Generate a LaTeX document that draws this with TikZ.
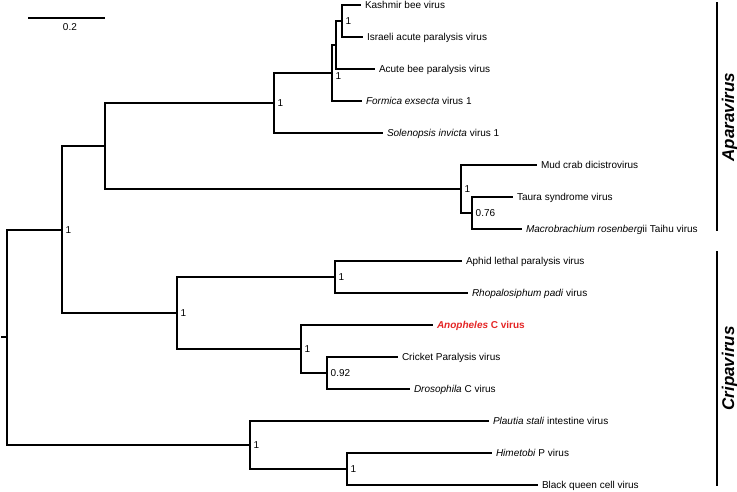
\documentclass[tikz,border=0pt]{standalone}
\usepackage{fontspec}
\setmainfont{Liberation Sans}
\definecolor{anored}{RGB}{228,37,37}
\begin{document}
\begin{tikzpicture}[x=1pt,y=-1pt,
  br/.style={line width=1.5pt, line join=miter},
  tip/.style={anchor=west, inner sep=0pt, xshift=3.8pt, font=\fontsize{10}{12}\selectfont, text height=7.2pt, text depth=0pt},
  nlab/.style={anchor=west, inner sep=0pt, xshift=3.5pt, font=\fontsize{10}{12}\selectfont, text height=7.2pt, text depth=0pt},
  clade/.style={rotate=90, anchor=base, inner sep=0pt, font=\fontsize{17}{20}\selectfont\bfseries\itshape}]
\useasboundingbox (0,0) rectangle (737,491);
% internal nodes
\coordinate (rootstem) at (1,337);
\coordinate (root) at (7,337);
\coordinate (n12) at (62,230);
\coordinate (n7) at (105,146);
\coordinate (n4) at (274,103);
\coordinate (n3) at (332,73);
\coordinate (n2) at (336,45);
\coordinate (n1) at (342,21);
\coordinate (n5) at (461,189);
\coordinate (n6) at (472,213);
\coordinate (n11) at (177,313);
\coordinate (n8) at (335,277);
\coordinate (n10) at (301,349);
\coordinate (n9) at (327,373);
\coordinate (n14) at (250,445);
\coordinate (n13) at (347,469);
% tips
\coordinate (t1) at (361,5);
\coordinate (t2) at (363,37);
\coordinate (t3) at (375,69);
\coordinate (t4) at (362,101);
\coordinate (t5) at (383,133);
\coordinate (t6) at (537,165);
\coordinate (t7) at (513,197);
\coordinate (t8) at (522,229);
\coordinate (t9) at (462,261);
\coordinate (t10) at (468,293);
\coordinate (t11) at (433,325);
\coordinate (t12) at (398,357);
\coordinate (t13) at (410,389);
\coordinate (t14) at (489,421);
\coordinate (t15) at (492,453);
\coordinate (t16) at (538,485);
% branches
\draw[br] (rootstem) -- (root);
\draw[br] (root) |- (n12);
\draw[br] (root) |- (n14);
\draw[br] (n12) |- (n7);
\draw[br] (n12) |- (n11);
\draw[br] (n7) |- (n4);
\draw[br] (n7) |- (n5);
\draw[br] (n4) |- (n3);
\draw[br] (n4) |- (t5);
\draw[br] (n3) |- (n2);
\draw[br] (n3) |- (t4);
\draw[br] (n2) |- (n1);
\draw[br] (n2) |- (t3);
\draw[br] (n1) |- (t1);
\draw[br] (n1) |- (t2);
\draw[br] (n5) |- (t6);
\draw[br] (n5) |- (n6);
\draw[br] (n6) |- (t7);
\draw[br] (n6) |- (t8);
\draw[br] (n11) |- (n8);
\draw[br] (n11) |- (n10);
\draw[br] (n8) |- (t9);
\draw[br] (n8) |- (t10);
\draw[br] (n10) |- (t11);
\draw[br] (n10) |- (n9);
\draw[br] (n9) |- (t12);
\draw[br] (n9) |- (t13);
\draw[br] (n14) |- (t14);
\draw[br] (n14) |- (n13);
\draw[br] (n13) |- (t15);
\draw[br] (n13) |- (t16);
% tip labels
\node[tip] (l1) at (t1) {Kashmir bee virus};
\node[tip] (l2) at (t2) {Israeli acute paralysis virus};
\node[tip] (l3) at (t3) {Acute bee paralysis virus};
\node[tip] (l4) at (t4) {\textit{Formica exsecta} virus 1};
\node[tip] (l5) at (t5) {\textit{Solenopsis invicta} virus 1};
\node[tip] (l6) at (t6) {Mud crab dicistrovirus};
\node[tip] (l7) at (t7) {Taura syndrome virus};
\node[tip] (l8) at (t8) {\textit{Macrobrachium rosenberg}ii Taihu virus};
\node[tip] (l9) at (t9) {Aphid lethal paralysis virus};
\node[tip] (l10) at (t10) {\textit{Rhopalosiphum padi} virus};
\node[tip, text=anored] (l11) at (t11) {\bfseries\textit{Anopheles} C virus};
\node[tip] (l12) at (t12) {Cricket Paralysis virus};
\node[tip] (l13) at (t13) {\textit{Drosophila} C virus};
\node[tip] (l14) at (t14) {\textit{Plautia stali} intestine virus};
\node[tip] (l15) at (t15) {\textit{Himetobi} P virus};
\node[tip] (l16) at (t16) {Black queen cell virus};
% support labels
\node[nlab] (b1) at (n1) {1};
\node[nlab, yshift=-3pt] (b3) at (n3) {1};
\node[nlab] (b4) at (n4) {1};
\node[nlab] (b5) at (n5) {1};
\node[nlab] (b6) at (n6) {0.76};
\node[nlab] (b8) at (n8) {1};
\node[nlab] (b10) at (n10) {1};
\node[nlab] (b9) at (n9) {0.92};
\node[nlab] (b11) at (n11) {1};
\node[nlab] (b12) at (n12) {1};
\node[nlab] (b13) at (n13) {1};
\node[nlab] (b14) at (n14) {1};
% scale bar
\coordinate (s1) at (28,18);
\coordinate (s2) at (105,18);
\draw[br] (s1) -- (s2);
\node[nlab, anchor=center, xshift=0pt] (sl) at (66.4,27) {0.2};
% clade brackets
\coordinate (a1) at (717,2);
\coordinate (a2) at (717,231);
\coordinate (c1) at (717,251);
\coordinate (c2) at (717,486);
\draw[br] (a1) -- (a2);
\draw[br] (c1) -- (c2);
\node[clade] (al) at (734,117) {Aparavirus};
\node[clade] (cl) at (734,368.5) {Cripavirus};
\end{tikzpicture}
\end{document}
